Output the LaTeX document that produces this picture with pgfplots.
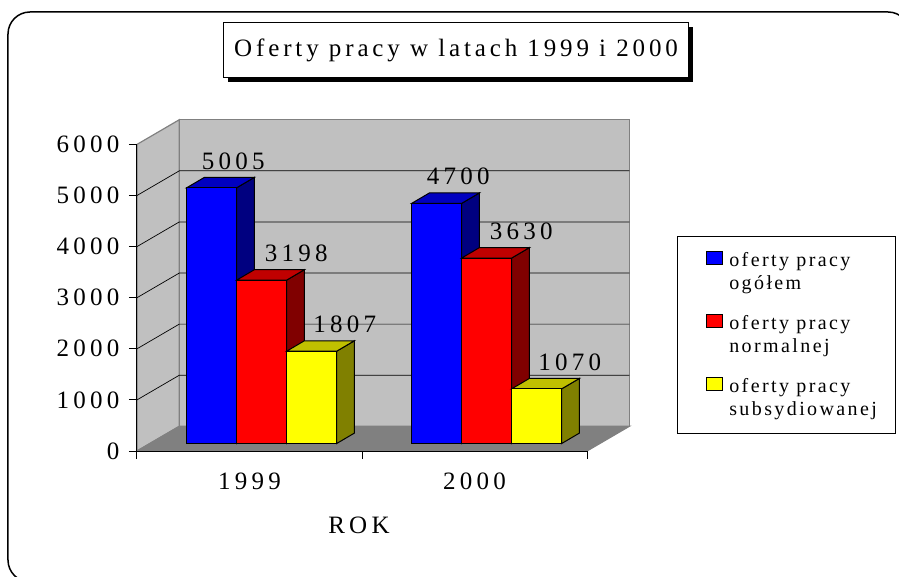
\documentclass[border=0pt]{standalone}
\usepackage{pgfplots}
\pgfplotsset{compat=1.18}
\usepackage{fontspec}
\setmainfont{Liberation Serif}[LetterSpace=17]
\newfontfamily\legfont{Liberation Serif}[LetterSpace=12]
\newfontfamily\titfont{Liberation Serif}[LetterSpace=15.5]
\usetikzlibrary{shadows}
\definecolor{wallc}{RGB}{192,192,192}
\definecolor{floorc}{RGB}{128,128,128}
\definecolor{edgec}{RGB}{128,128,128}
\definecolor{bF}{RGB}{0,0,255}\definecolor{bT}{RGB}{0,0,192}\definecolor{bS}{RGB}{0,0,128}
\definecolor{rF}{RGB}{255,0,0}\definecolor{rT}{RGB}{192,0,0}\definecolor{rS}{RGB}{128,0,0}
\definecolor{yF}{RGB}{255,255,0}\definecolor{yT}{RGB}{192,192,0}\definecolor{yS}{RGB}{128,128,0}
\tikzset{labstyle/.style={font=\fontsize{25}{30}\selectfont, anchor=base, yshift=18.4pt}}
\begin{document}
\begin{tikzpicture}
\useasboundingbox (-137pt,-125pt) rectangle (762pt,451pt);
\begin{axis}[
  at={(0,0)}, anchor=south west,
  scale only axis, width=450pt, height=306.6pt,
  xmin=0, xmax=450, ymin=0, ymax=6000,
  clip=false, axis on top,
  axis lines*=left,
  axis line style={black, line width=1pt},
  every tick/.style={black, line width=1pt},
  tick align=outside, major tick length=8pt,
  xtick={0,225,450}, xticklabels={1999,2000},
  x tick label as interval,
  ytick={0,1000,2000,3000,4000,5000,6000},
  /pgf/number format/assume math mode=true,
  /pgf/number format/1000 sep={},
  tick label style={font=\fontsize{25}{30}\selectfont},
  xticklabel style={yshift=-10pt},
  yticklabel style={xshift=-6pt},
  xlabel={ROK},
  xlabel style={at={(axis description cs:0.4933,0)}, anchor=base, yshift=-82pt, font=\fontsize{25}{30}\selectfont},
  title={Oferty pracy w latach 1999 i 2000},
  title style={at={(axis description cs:0.709,1.2883)}, anchor=center,
    draw=black, line width=1.5pt, fill=white, minimum width=465pt, minimum height=55pt,
    font=\titfont\fontsize{25}{30}\selectfont,
    drop shadow={shadow xshift=4pt, shadow yshift=-4pt, opacity=1, fill=black}},
  legend style={at={(axis description cs:1.2,0.7013)}, anchor=north west,
    draw=black, line width=0.8pt, font=\legfont\fontsize{20}{23}\selectfont,
    cells={anchor=west, align=left}, row sep=20.4pt, column sep=4pt,
    inner xsep=10pt, inner ysep=14pt},
  bar3d/.style={ybar, bar width=50, bar shift=0pt, xshift=12.8pt, yshift=7.5pt,
    draw=black, line width=1pt, forget plot},
  face/.style={draw=black, line width=1pt, xshift=12.8pt, yshift=7.5pt, forget plot},
  deco/.style={forget plot},
]
% walls and floor
\addplot[deco, fill=wallc, draw=edgec, line width=1.2pt] coordinates {(0,0) (42.3,483) (42.3,6483) (0,6000)} -- cycle;
\addplot[deco, fill=wallc, draw=edgec, line width=1.2pt] coordinates {(42.3,483) (492.3,483) (492.3,6483) (42.3,6483)} -- cycle;
\addplot[deco, fill=floorc, draw=edgec, line width=1.2pt] coordinates {(0,0) (450,0) (492.3,483) (42.3,483)} -- cycle;
% gridlines
\addplot[deco, black, line width=0.7pt] coordinates {(0,1000) (42.3,1483) (492.3,1483)};
\addplot[deco, black, line width=0.7pt] coordinates {(0,2000) (42.3,2483) (492.3,2483)};
\addplot[deco, black, line width=0.7pt] coordinates {(0,3000) (42.3,3483) (492.3,3483)};
\addplot[deco, black, line width=0.7pt] coordinates {(0,4000) (42.3,4483) (492.3,4483)};
\addplot[deco, black, line width=0.7pt] coordinates {(0,5000) (42.3,5483) (492.3,5483)};
% blue: oferty pracy ogolem
\addplot[face, fill=bS] coordinates {(86.9,0) (86.9,5005) (104.6,5208.5) (104.6,203.5)} -- cycle;
\addplot[face, fill=bT] coordinates {(36.9,5005) (86.9,5005) (104.6,5208.5) (54.6,5208.5)} -- cycle;
\addplot[face, fill=bS] coordinates {(311.9,0) (311.9,4700) (329.6,4903.5) (329.6,203.5)} -- cycle;
\addplot[face, fill=bT] coordinates {(261.9,4700) (311.9,4700) (329.6,4903.5) (279.6,4903.5)} -- cycle;
\addplot[bar3d, fill=bF, nodes near coords,
  nodes near coords style={labstyle, xshift=21.5pt}]
  coordinates {(61.9,5005) (286.9,4700)};
% red: oferty pracy normalnej
\addplot[face, fill=rS] coordinates {(136.9,0) (136.9,3198) (154.6,3401.5) (154.6,203.5)} -- cycle;
\addplot[face, fill=rT] coordinates {(86.9,3198) (136.9,3198) (154.6,3401.5) (104.6,3401.5)} -- cycle;
\addplot[face, fill=rS] coordinates {(361.9,0) (361.9,3630) (379.6,3833.5) (379.6,203.5)} -- cycle;
\addplot[face, fill=rT] coordinates {(311.9,3630) (361.9,3630) (379.6,3833.5) (329.6,3833.5)} -- cycle;
\addplot[bar3d, fill=rF, nodes near coords,
  nodes near coords style={labstyle, xshift=34.5pt}]
  coordinates {(111.9,3198) (336.9,3630)};
% yellow: oferty pracy subsydiowanej
\addplot[face, fill=yS] coordinates {(186.9,0) (186.9,1807) (204.6,2010.5) (204.6,203.5)} -- cycle;
\addplot[face, fill=yT] coordinates {(136.9,1807) (186.9,1807) (204.6,2010.5) (154.6,2010.5)} -- cycle;
\addplot[face, fill=yS] coordinates {(411.9,0) (411.9,1070) (429.6,1273.5) (429.6,203.5)} -- cycle;
\addplot[face, fill=yT] coordinates {(361.9,1070) (411.9,1070) (429.6,1273.5) (379.6,1273.5)} -- cycle;
\addplot[bar3d, fill=yF, nodes near coords,
  nodes near coords style={labstyle, xshift=33pt}]
  coordinates {(161.9,1807) (386.9,1070)};
% legend
\addlegendimage{legend image code/.code={\path (0pt,0pt); \draw[fill=bF, draw=black, line width=1pt] (19pt,7.5pt) rectangle (35pt,20pt);}}
\addlegendentry{oferty pracy\\ogółem}
\addlegendimage{legend image code/.code={\path (0pt,0pt); \draw[fill=rF, draw=black, line width=1pt] (19pt,7.5pt) rectangle (35pt,20pt);}}
\addlegendentry{oferty pracy\\normalnej}
\addlegendimage{legend image code/.code={\path (0pt,0pt); \draw[fill=yF, draw=black, line width=1pt] (19pt,7.5pt) rectangle (35pt,20pt);}}
\addlegendentry{oferty pracy\\\makebox[154pt][l]{subsydiowanej}}
\end{axis}
\draw[line width=1.5pt, rounded corners=22pt] (-129pt,439pt) rectangle (773pt,-131pt);
\end{tikzpicture}
\end{document}
